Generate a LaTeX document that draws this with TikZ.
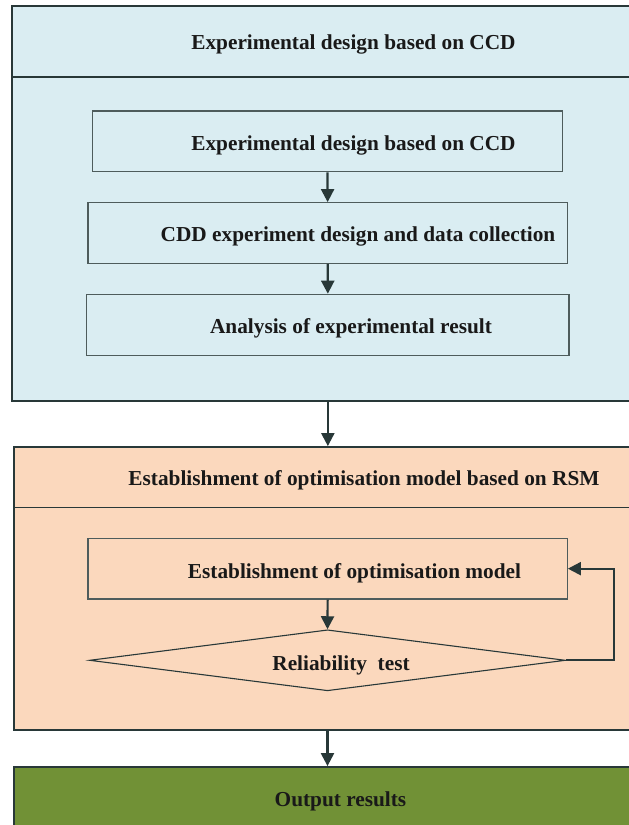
\documentclass[tikz,border=0pt]{standalone}
\usepackage{fontspec}
\setmainfont{Liberation Serif}
\usetikzlibrary{arrows.meta,shapes.geometric}
\definecolor{ccdblue}{HTML}{DAEDF2}
\definecolor{rsmpeach}{HTML}{FBD8BD}
\definecolor{outgreen}{HTML}{719136}
\definecolor{inkline}{HTML}{283838}
\definecolor{boxline}{HTML}{4E5C5C}
\begin{document}
\begin{tikzpicture}[x=1pt,y=-1pt,
  stage/.style={draw=inkline,line width=1.8pt,inner sep=0pt},
  stepbox/.style={draw=boxline,line width=1.2pt,inner sep=0pt},
  decision/.style={diamond,draw=inkline,line width=1.1pt,inner sep=0pt},
  caption/.style={anchor=base,text=black!90,font=\fontsize{21.3}{25}\selectfont\bfseries},
  flow/.style={draw=inkline,line width=2.2pt,-{Triangle[length=13pt,width=13pt]}}]
\clip (0,0) rectangle (629,825);
\fill[white] (0,0) rectangle (629,825);
\node[stage,fill=ccdblue,minimum width=628pt,minimum height=395pt] (ccd) at (326,203.5) {};
\node[stage,fill=rsmpeach,minimum width=626pt,minimum height=283pt] (rsm) at (327,588.5) {};
\node[stage,fill=outgreen,minimum width=626pt,minimum height=93pt] (result) at (327,813.5) {};
\draw[draw=inkline,line width=1.3pt] (12,77) -- (640,77);
\draw[draw=inkline,line width=1.3pt] (14,507.5) -- (640,507.5);
\node[caption] (ccdtitle) at (353.5,49.3) {Experimental design based on CCD};
\node[caption] (rsmtitle) at (364,485) {Establishment of optimisation model based on RSM};
\node[caption] (resulttitle) at (340.5,806.5) {Output results};
\node[stepbox,minimum width=470.4pt,minimum height=60.7pt] (design) at (327.5,141.35) {};
\node[stepbox,minimum width=479.3pt,minimum height=60.6pt] (collect) at (327.65,233) {};
\node[stepbox,minimum width=482.3pt,minimum height=61pt] (analysis) at (327.85,324.8) {};
\node[stepbox,minimum width=479.3pt,minimum height=60.7pt] (model) at (327.65,568.65) {};
\node[decision,minimum width=476pt,minimum height=61pt] (test) at (327.5,660.3) {};
\node[caption] (designtxt) at (353.5,150.7) {Experimental design based on CCD};
\node[caption] (collecttxt) at (358,241.7) {CDD experiment design and data collection};
\node[caption] (analysistxt) at (351,333.3) {Analysis of experimental result};
\node[caption] (modeltxt) at (354.5,578.7) {Establishment of optimisation model};
\node[caption] (testtxt) at (341,670.7) {Reliability\ \ test};
\draw[flow] (design.south) -- (collect.north);
\draw[flow] (collect.south) -- (analysis.north);
\draw[flow] (analysis.south |- ccd.south) -- (analysis.south |- rsm.north);
\draw[flow] (model.south) -- (test.north);
\draw[flow] (test.east) -- ++(48,0) |- (model.east);
\draw[flow] (test.south |- rsm.south) -- (test.south |- result.north);
\end{tikzpicture}
\end{document}
